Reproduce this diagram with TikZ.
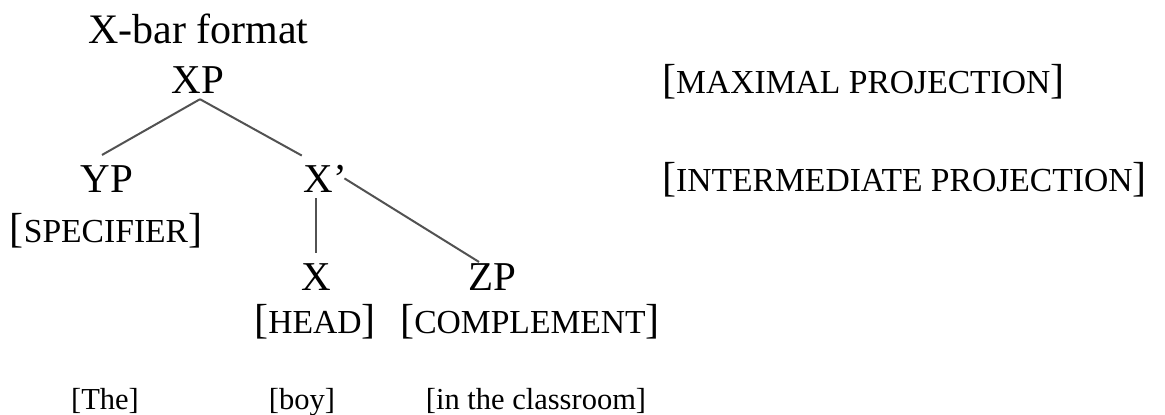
\documentclass[tikz,border=0pt]{standalone}
\usepackage{fontspec}
\setmainfont{Liberation Serif}
\usetikzlibrary{calc}
\newcommand\sclab[1]{[{\fontsize{33.6}{40}\selectfont #1}]}
\begin{document}
\begin{tikzpicture}[x=1pt,y=-1pt,
  treenode/.style={anchor=base, inner sep=6pt, font=\fontsize{41}{49}\selectfont},
  titlelabel/.style={anchor=base west, inner sep=0pt, font=\fontsize{42}{50}\selectfont},
  rolelabel/.style={anchor=base, inner sep=0pt, font=\fontsize{42}{50}\selectfont},
  wordlabel/.style={anchor=base, inner sep=0pt, font=\fontsize{30.5}{36}\selectfont},
  branch/.style={draw=black!68, line width=2pt}]
\useasboundingbox (0,0) rectangle (1165,415);

\node[titlelabel] (title) at (88,43) {X-bar format};

\node[treenode] (XP) at (198,93) {XP};
\node[treenode] (YP) at (107,192) {YP};
\node[treenode] (Xb) at (325.6,192) {X’};
\node[treenode] (X)  at (316,290) {X};
\node[treenode] (ZP) at (492,290) {ZP};

\node[rolelabel] (spec) at (106,242) {\sclab{SPECIFIER}};
\node[rolelabel] (head) at (315,333) {\sclab{HEAD}};
\node[rolelabel] (comp) at (530,333) {\sclab{COMPLEMENT}};
\node[rolelabel, anchor=base west] (maxp) at (662,93) {\sclab{MAXIMAL PROJECTION}};
\node[rolelabel, anchor=base west] (intp) at (662,191) {\sclab{INTERMEDIATE PROJECTION}};

\node[wordlabel] (the) at (105,409) {[The]};
\node[wordlabel] (boy) at (302,409) {[boy]};
\node[wordlabel] (cls) at (536,409) {[in the classroom]};

\draw[branch] ([xshift=2pt]XP.south) -- ([xshift=-5pt,yshift=4pt]YP.north);
\draw[branch] ([xshift=2pt]XP.south) -- ([xshift=4pt,yshift=3pt]Xb.north west);
\draw[branch] ([xshift=-9pt]Xb.east) -- ([xshift=-13pt,yshift=-5pt]ZP.north);
\draw[branch] (X.north |- Xb.south) -- ([yshift=4pt]X.north);
\end{tikzpicture}
\end{document}
